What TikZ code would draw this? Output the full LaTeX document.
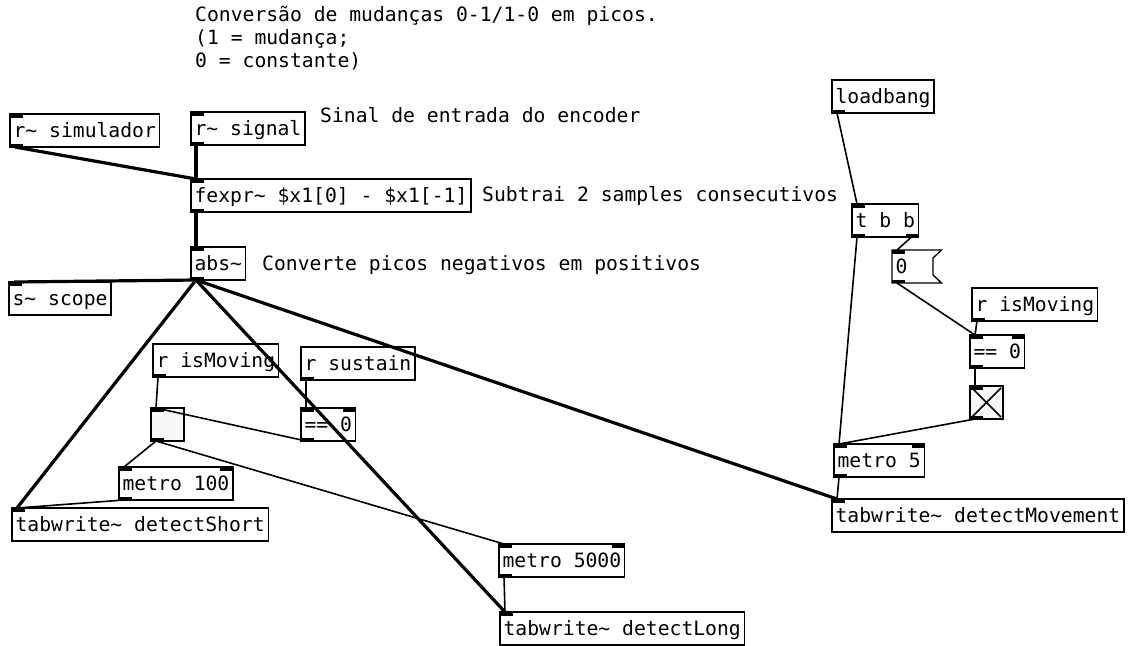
\documentclass[tikz,border=0pt]{standalone}
\usepackage{fontspec}
\setmainfont{DejaVu Sans Mono}
\newcommand\pdfnt{\fontsize{19.7pt}{23pt}\selectfont}
% inlets and outlets of a box
\newcommand\pdin[1]{\fill (#1.north west) rectangle ++(12.5,3.5);}
\newcommand\pdinr[1]{\fill (#1.north east) rectangle ++(-12.5,3.5);}
\newcommand\pdout[1]{\fill (#1.south west) rectangle ++(12.5,-3.5);}
\newcommand\pdoutr[1]{\fill (#1.south east) rectangle ++(-12.5,-3.5);}
\begin{document}
\begin{tikzpicture}[x=1pt,y=-1pt,
  obj/.style={draw, line width=1.3pt, anchor=north west, outer sep=0pt,
    inner xsep=3.6pt, inner ysep=8pt, text height=15pt, text depth=2pt, font=\pdfnt},
  msgbox/.style={obj, draw=none, text width=33.8pt, align=left},
  tgl/.style={draw, line width=1.3pt, anchor=north west, outer sep=0pt,
    inner sep=0pt, minimum size=33pt, fill=black!3},
  comment/.style={anchor=base west, inner sep=0pt, font=\pdfnt},
  sig/.style={line width=3.2pt},
  ctl/.style={line width=1.6pt}]
\useasboundingbox (0,0) rectangle (1131,645);
\fill[white] (0,0) rectangle (1131,645);

% comments
\node[comment] (c1) at (195,21) {Conversão de mudanças 0-1/1-0 em picos.};
\node[comment] (c2) at (195,44) {(1 = mudança;};
\node[comment] (c3) at (195,67) {0 = constante)};
\node[comment] (c4) at (320,122) {Sinal de entrada do encoder};
\node[comment] (c5) at (482,201) {Subtrai 2 samples consecutivos};
\node[comment] (c6) at (262,270) {Converte picos negativos em positivos};

% signal chain
\node[obj] (sim) at (10,114) {r\textasciitilde{} simulador};
\node[obj] (sig) at (191,112) {r\textasciitilde{} signal};
\node[obj] (fexpr) at (191,179) {fexpr\textasciitilde{} \$x1[0] - \$x1[-1]};
\node[obj] (abs) at (191,247) {abs\textasciitilde};
\node[obj] (scope) at (9,282) {s\textasciitilde{} scope};

% short / long detection
\node[obj] (isml) at (153,344) {r isMoving};
\node[obj] (sus) at (301,347) {r sustain};
\node[tgl] (tgl) at (151,408) {};
\node[obj] (eql) at (301,408) {== 0};
\node[obj] (m100) at (119,467) {metro 100};
\node[obj] (tws) at (12,508) {tabwrite\textasciitilde{} detectShort};
\node[obj] (m5000) at (499,544) {metro 5000};
\node[obj] (twl) at (500,612) {tabwrite\textasciitilde{} detectLong};

% movement detection
\node[obj] (lb) at (832,80) {loadbang};
\node[obj] (tbb) at (852,204) {t b b};
\node[msgbox] (msg) at (892,250) {0};
\draw[line width=1.3pt] (msg.north west) -- ([xshift=8.5pt]msg.north east)
  -- ([yshift=-8pt]msg.north east) -- ([yshift=8pt]msg.south east)
  -- ([xshift=8.5pt]msg.south east) -- (msg.south west) -- cycle;
\node[obj] (ismr) at (972,288) {r isMoving};
\node[obj] (eqr) at (970,335) {== 0};
\node[tgl] (tgr) at (970,386) {};
\draw[line width=1.5pt] ([shift={(2,2)}]tgr.north west) -- ([shift={(-2,-2)}]tgr.south east)
  ([shift={(-2,2)}]tgr.north east) -- ([shift={(2,-2)}]tgr.south west);
\node[obj] (m5) at (834,444) {metro 5};
\node[obj] (twm) at (832,499) {tabwrite\textasciitilde{} detectMovement};

% signal connections
\draw[sig] ([xshift=5pt]sim.south west) -- ([xshift=5pt]fexpr.north west);
\draw[sig] ([xshift=5pt]sig.south west) -- ([xshift=5pt]fexpr.north west);
\draw[sig] ([xshift=5pt]fexpr.south west) -- ([xshift=5pt]abs.north west);
\draw[sig] ([xshift=5pt]abs.south west) -- ([xshift=5pt]scope.north west);
\draw[sig] ([xshift=5pt]abs.south west) -- ([xshift=5pt]tws.north west);
\draw[sig] ([xshift=5pt]abs.south west) -- ([xshift=5pt]twl.north west);
\draw[sig] ([xshift=5pt]abs.south west) -- ([xshift=5pt]twm.north west);

% control connections
\draw[ctl] ([xshift=5pt]isml.south west) -- ([xshift=5pt]tgl.north west);
\draw[ctl] ([xshift=5pt]sus.south west) -- ([xshift=5pt]eql.north west);
\draw[ctl] ([xshift=5pt]eql.south west) -- ([xshift=5pt]tgl.north west);
\draw[ctl] ([xshift=5pt]tgl.south west) -- ([xshift=5pt]m100.north west);
\draw[ctl] ([xshift=5pt]tgl.south west) -- ([xshift=5pt]m5000.north west);
\draw[ctl] ([xshift=5pt]m100.south west) -- ([xshift=5pt]tws.north west);
\draw[ctl] ([xshift=5pt]m5000.south west) -- ([xshift=5pt]twl.north west);
\draw[ctl] ([xshift=5pt]lb.south west) -- ([xshift=5pt]tbb.north west);
\draw[ctl] ([xshift=5pt]tbb.south west) -- ([xshift=5pt]m5.north west);
\draw[ctl] ([xshift=-7pt]tbb.south east) -- ([xshift=5pt]msg.north west);
\draw[ctl] ([xshift=5pt]msg.south west) -- ([xshift=5pt]eqr.north west);
\draw[ctl] ([xshift=5pt]ismr.south west) -- ([xshift=5pt]eqr.north west);
\draw[ctl] ([xshift=5pt]eqr.south west) -- ([xshift=5pt]tgr.north west);
\draw[ctl] ([xshift=5pt]tgr.south west) -- ([xshift=5pt]m5.north west);
\draw[ctl] ([xshift=5pt]m5.south west) -- ([xshift=5pt]twm.north west);

% inlets and outlets
\pdin{sim}\pdout{sim}
\pdin{sig}\pdout{sig}
\pdin{fexpr}\pdout{fexpr}
\pdin{abs}\pdout{abs}
\pdin{scope}
\pdout{isml}
\pdout{sus}
\pdin{tgl}\pdout{tgl}
\pdin{eql}\pdinr{eql}\pdout{eql}
\pdin{m100}\pdinr{m100}\pdout{m100}
\pdin{tws}
\pdin{m5000}\pdinr{m5000}\pdout{m5000}
\pdin{twl}
\pdout{lb}
\pdin{tbb}\pdout{tbb}\pdoutr{tbb}
\pdin{msg}\pdout{msg}
\pdout{ismr}
\pdin{eqr}\pdinr{eqr}\pdout{eqr}
\pdin{tgr}\pdout{tgr}
\pdin{m5}\pdinr{m5}\pdout{m5}
\pdin{twm}
\end{tikzpicture}
\end{document}
